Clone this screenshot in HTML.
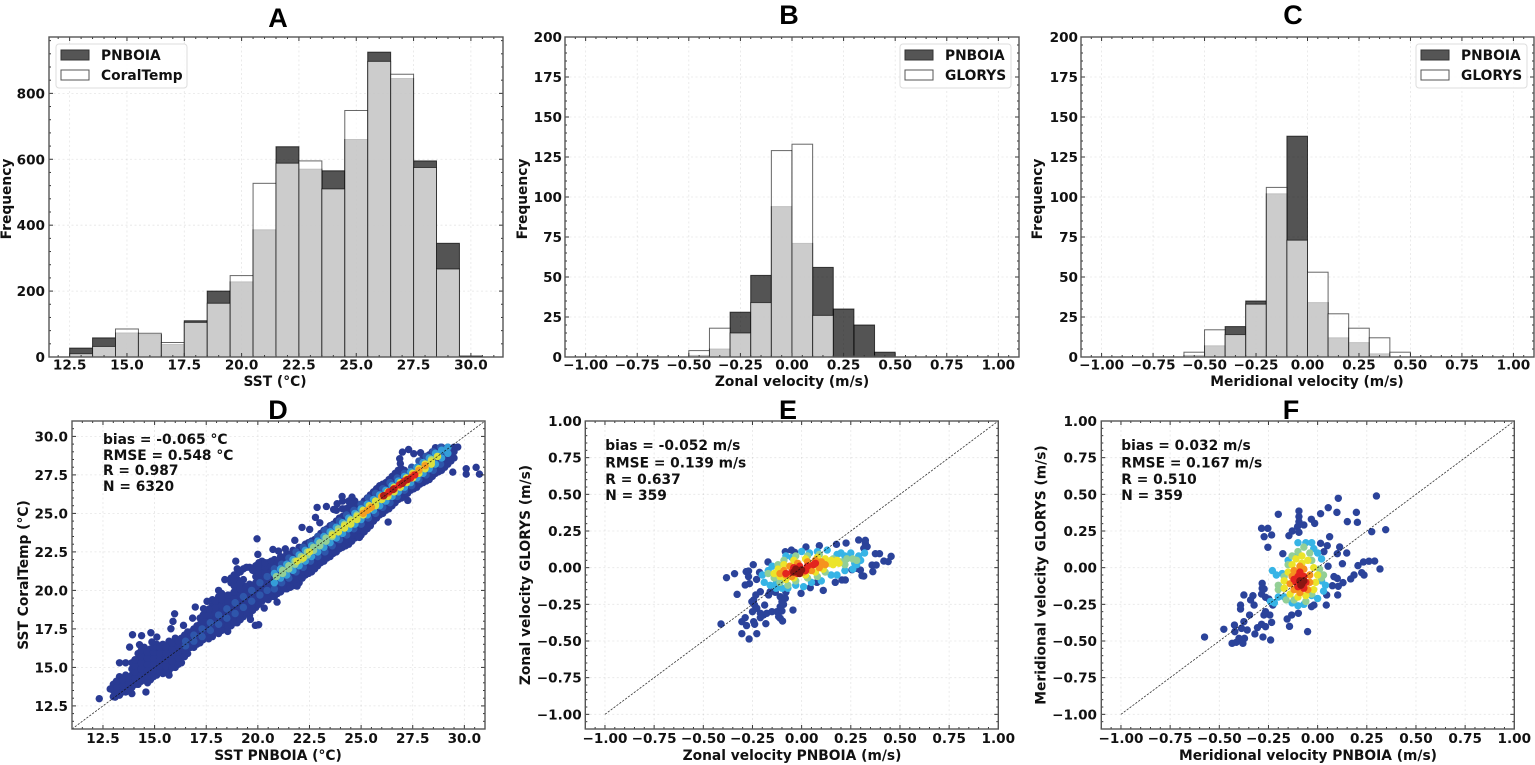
<!DOCTYPE html>
<html lang="en">
<head>
<meta charset="utf-8">
<title>SST and velocity comparison panels</title>
<style>
html,body{margin:0;padding:0;background:#fff;}
#figure{display:block;width:1535px;height:765px;filter:blur(0.35px);}
text{font-family:"DejaVu Sans","Liberation Sans",sans-serif;font-weight:700;fill:#111;}
.panel-title{font-family:"Liberation Sans",sans-serif;font-size:27px;fill:#000;text-anchor:middle;}
</style>
</head>
<body>
<svg id="figure" xmlns="http://www.w3.org/2000/svg" width="1535" height="765" viewBox="0 0 1535 765"></svg>
<script>
/* ---------- histogram data ---------- */
const sstBins = [12.5,13.5,14.5,15.5,16.5,17.5,18.5,19.5,20.5,21.5,22.5,23.5,24.5,25.5,26.5,27.5,28.5,29.5];
const sstPnboiaCounts = [27,58,73,68,38,110,200,228,386,638,570,565,660,925,845,595,345,3];
const sstCoralCounts = [10,32,85,72,44,105,163,247,527,588,595,510,748,897,858,575,267,0];
const zonalBins = [-0.5,-0.4,-0.3,-0.2,-0.1,0,0.1,0.2,0.3,0.4];
const zonalPnboiaCounts = [1,5,28,51,94,71,56,30,20,3];
const zonalGlorysCounts = [4,18,15,34,129,133,26,0,0,0];
const meridBins = [-0.6,-0.5,-0.4,-0.3,-0.2,-0.1,0,0.1,0.2,0.3,0.4];
const meridPnboiaCounts = [1,7,19,35,102,138,34,12,9,2,0];
const meridGlorysCounts = [3,17,14,33,106,73,53,27,18,12,3];

/* ---------- tick labels ---------- */
const sstTicks = [12.5,15,17.5,20,22.5,25,27.5,30];
const sstTickLabels = ["12.5","15.0","17.5","20.0","22.5","25.0","27.5","30.0"];
const sstFreqTicks = [0,200,400,600,800];
const sstFreqLabels = ["0","200","400","600","800"];
const velFreqTicks = [0,25,50,75,100,125,150,175,200];
const velFreqLabels = ["0","25","50","75","100","125","150","175","200"];
const velTicks = [-1,-0.75,-0.5,-0.25,0,0.25,0.5,0.75,1];
const velTickLabels = ["\u22121.00","\u22120.75","\u22120.50","\u22120.25","0.00","0.25","0.50","0.75","1.00"];

/* ---------- scatter D (SST): columns of points per density level ---------- */
const sstNavyColX = [13,13.3,13.6,13.9,14.2,14.5,14.8,15.1,15.4,15.7,16,16.3,16.6,16.9,17.2,17.5,17.8,18.1,18.4,18.7,19,19.3,19.6,19.9,20.2,20.5,20.8,21.1,21.4,21.7,22,22.3,22.6,22.9,23.2,23.5,23.8,24.1,24.4,24.7,25,25.3,25.6,25.9,26.2,26.5,26.8,27.1,27.4,27.7,28,28.3,28.6,28.9,29.2,29.5];
const sstNavyColY = [
[13.1,13.5,13.9],[13.2,13.6,14,14.4,15.3],[13.4,13.8,14.2,14.5,15.3],[13.3,13.7,14.1,14.5,14.9,15.3],
[13.9,14.3,14.7,15.1,15.5,15.9],[14.3,14.7,15.1,15.5,15.9,16.3],[14.2,14.6,15,15.4,15.8,16.2],[14.5,14.9,15.3,15.7,16.1,16.5],
[14.6,15,15.4,15.8,16.2,16.5],[14.5,14.8,15.2,15.6,16,16.4,16.7],[15,15.4,15.8,16.2,16.6,16.9],[15.3,15.7,16.1,16.5,16.9],
[15.9,16.3,16.7,17,17.3],[16.3,16.7,17.1,17.5],[16.6,17,17.4,17.8,18.2],[17,17.4,17.8,18.2,18.6],
[17,17.4,17.8,18.2,18.6,19,19.4],[17.2,17.6,18,18.4,18.8,19.2,19.6,20],[17.5,17.9,18.3,18.7,19.1,19.5,20.7],[17.7,18.1,18.5,18.9,19.3,19.7,20.5,20.8],
[17.9,18.3,18.7,19.1,19.5,19.9,20.3,20.7,21.1,21.4],[18.3,18.7,19.1,19.5,19.9,20.3,20.7,21.4],[18.4,18.8,19.2,19.6,20,20.4,21.5],[18.9,19.3,19.7,20.1,20.5,20.9,21.3,21.6],
[19.3,19.6,20,20.4,20.8,21.2,21.6,21.9],[19.4,19.8,20.2,20.6,21,21.4,21.8],[19.6,20,20.4,20.8,21.2,21.6,22],[19.9,20.3,20.7,21.1,21.5,21.9,22.2],
[20.1,20.5,20.9,21.3,21.7,22.1,22.4],[20.3,20.7,21.1,21.5,21.9,22.3,22.6],[20.5,20.9,21.3,21.7,22.1,22.5,22.8],[21,21.4,21.8,22.2,22.6,23],
[21.2,21.6,22,22.4,22.8,23.2],[21.6,22,22.4,22.8,23.2,23.5],[21.9,22.3,22.7,23.1,23.5,23.9],[22.2,22.6,23,23.4,23.8,24.2],
[22.5,22.9,23.3,23.7,24.1,24.5,25.2],[22.8,23.2,23.6,24,24.4,24.8,25.3,25.8],[23,23.4,23.8,24.2,24.6,25,25.4,25.8],[23.4,23.8,24.2,24.6,25,25.4,25.8],
[23.6,24,24.4,24.8,25.2,25.6],[24,24.4,24.8,25.2,25.6,26],[24.5,24.9,25.3,25.7,26.1,26.4],[24.9,25.3,25.7,26.1,26.5,26.8],
[25.2,25.6,26,26.4,26.8,27],[25.5,25.9,26.3,26.7,27.1,27.4],[25.9,26.3,26.7,27.1,27.5,27.8],[26.2,26.6,27,27.4,27.8],
[26.5,26.9,27.3,27.7],[26.7,27.1,27.5,27.9],[27,27.4,27.8,28.2,28.6],[27.2,27.6,28,28.4,28.8],
[27.6,28,28.4,28.8,29.1],[27.8,28.2,28.6,29,29.3],[28.2,28.6,29,29.3],[28.6,29,29.3]
];
const sstNavyFillColX = [13.15,13.45,13.75,14.05,14.35,14.65,14.95,15.25,15.55,15.85,16.15,16.45,16.75,17.05,17.35,17.65,17.95,18.25,18.55,18.85,19.15,19.45,19.75,20.05,20.35,20.65,20.95,21.25,21.55,21.85,22.15,22.45,22.75,23.05,23.35,23.65,23.95,24.25,24.55,24.85,25.15,25.45,25.75,26.05,26.35,26.65,26.95,27.25,27.55,27.85,28.15,28.45,28.75,29.05,29.35];
const sstNavyFillColY = [
[13.3,13.7,14.1],[13.4,13.8,14.2],[13.5,13.9,14.3],[13.9,14.3,14.7,15.1,15.5],
[14.1,14.5,14.9,15.3,15.7,16.1],[14.4,14.8,15.2,15.6,16],[14.4,14.8,15.2,15.6,16,16.3],[14.7,15.1,15.5,15.9,16.3],
[14.7,15.1,15.5,15.9,16.3],[15,15.4,15.8,16.2,16.6],[15.2,15.6,16,16.4,16.7],[15.7,16.1,16.5,16.9,17.1],
[16.3,16.7,17,17.3],[16.5,16.9,17.3,17.7],[16.8,17.2,17.6,18,18.4],[17.2,17.6,18,18.4,18.8],
[17.3,17.7,18.1,18.5,18.9,19.3],[17.4,17.8,18.2,18.6,19,19.4,19.8],[17.7,18.1,18.5,18.9,19.3,19.7],[17.9,18.3,18.7,19.1,19.5,19.9,20.3,20.7,21],
[18.1,18.5,18.9,19.3,19.7,20.1,20.5,21.2],[18.6,19,19.4,19.8,20.2,21.5],[18.7,19.1,19.5,19.9,20.3,21.3],[19.1,19.5,19.9,20.3,20.7,21.1,21.5,21.8],
[19.5,19.9,20.3,20.7,21.1,21.5,21.8],[19.6,20,20.4,20.8,21.2,21.6,21.9],[19.8,20.2,20.6,21,21.4,21.8],[20.1,20.5,20.9,21.3,21.7,22.1],
[20.3,20.7,21.1,21.5,21.9,22.3],[20.5,20.9,21.3,21.7,22.1,22.5],[20.8,21.2,21.6,22,22.4,22.8],[21.1,21.5,21.9,22.3,22.7,23.1],
[21.4,21.8,22.2,22.6,23,23.3],[21.8,22.2,22.6,23,23.4,23.7],[22.1,22.5,22.9,23.3,23.7,24],[22.4,22.8,23.2,23.6,24,24.3],
[22.7,23.1,23.5,23.9,24.3,24.7],[22.9,23.3,23.7,24.1,24.5,24.9,25.3],[23.2,23.6,24,24.4,24.8,25.2,25.6],[23.5,23.9,24.3,24.7,25.1,25.5],
[23.8,24.2,24.6,25,25.4,25.8],[24.2,24.6,25,25.4,25.8,26.2],[24.7,25.1,25.5,25.9,26.3,26.6],[25,25.4,25.8,26.2,26.6,26.9],
[25.3,25.7,26.1,26.5,26.9,27.2],[25.7,26.1,26.5,26.9,27.3,27.6],[26,26.4,26.8,27.2,27.6,27.9],[26.3,26.7,27.1,27.5],
[26.6,27,27.4,27.8],[26.9,27.3,27.7,28.1,28.4],[27.1,27.5,27.9,28.3,28.7],[27.4,27.8,28.2,28.6,29],
[27.7,28.1,28.5,28.9,29.2],[28,28.4,28.8,29.2],[28.4,28.8,29.2]
];
const sstOutlierX = [12.32,13.09,12.85,14.58,14.66,13.79,13.93,14.37,14.82,15.11,14.87,14.27,15.97,15.89,15.79,16.4,16.84,16.97,17.54,17.37,18.93,19.96,20,20.73,21,21.33,21.79,22.14,22.51,22.79,22.87,23,23.32,23.67,24.08,23.84,24.56,24.92,26.31,27.26,29.44,30.09,30.09,30.57,30.73,26.9,26.87,27,27.3,27.55,27.88,28.04,28.6,29.68,21.9,21.57,20.04,19.88,20.93,20.31,19.64,18.54,17.62];
const sstOutlierY = [12.97,13.07,13.6,13.4,14,16.32,17.12,17.06,17.25,16.97,16.65,16.47,18.48,17.99,17.51,17.73,18.2,18.92,19.29,18.81,21.9,23.35,22.34,22.66,22.55,22.7,23.25,24.09,23.96,24.74,25.39,24.39,25.45,25.26,26.1,25.63,26.06,23.44,24.44,25.84,27.68,27.9,27.55,27.99,27.55,28.23,28.55,28.98,29.15,28.88,28.94,28.6,29.27,29.31,20.28,20.2,17.77,17.73,19.24,18.85,18.12,17.34,16.86];
const sstMidColX = [16.5,16.9,17.3,17.7,18.1,18.5,18.9,19.3,19.7,20.1,20.45,20.8,21.15,21.5,21.85,22.2,22.55,22.9,23.25,23.6,23.95,24.3,24.65,25,25.35,25.7,26.05,26.4,26.75,27.1,27.45,27.8,28.15,28.5,28.85,29.2];
const sstMidColY = [[16.4,16.7],[16.7,17.1],[17,17.5],[17.4,17.9],[17.8,18.4],[18.2,18.8],[18.5,19.2],[18.9,19.6],[19.3,20],[19.7,20.5],[20,20.9],[21.4,20.1],[21.7,20.5],[22.1,20.8],[22.5,21.2],[22.8,21.5],[23.1,21.9],[23.5,22.2],[23.9,22.5],[24.2,22.9],[24.5,23.3],[24.9,23.6],[25.2,24],[25.6,24.3],[26,24.7],[26.3,25],[26.6,25.4],[27,25.7],[27.3,26.1],[27.6,26.5],[28,26.8],[28.4,27.2],[28.7,27.5],[29,27.8],[29.3,28.2],[29.2]];
const sstCyanColX = [20.8,21.1,21.4,21.7,22,22.3,22.6,22.9,23.2,23.5,23.8,24.1,24.4,24.7,25,25.3,25.6,25.9,26.2,26.5,26.8,27.1,27.4,27.7,28,28.3,28.6,28.9,29.2];
const sstCyanColY = [[21.1,20.5],[21.4,20.8],[21.7,21],[22,21.3],[22.3,21.6],[22.6,21.9],[22.9,22.2],[23.2,22.5],[23.5,22.8],[23.8,23.1],[24.1,23.4],[24.4,23.7],[24.7,24],[25,24.3],[25.3,24.6],[25.6,24.9],[25.9,25.2],[26.2,25.5],[26.5,25.8],[26.8,26.1],[27.1,26.4],[27.4,26.7],[27.7,27],[28,27.3],[28.3,27.6],[28.6,27.9],[28.9,28.2],[29.1,28.6],[29.3,28.9]];
const sstGreenColX = [20.9,21.2,21.5,21.8,22.1,22.4,22.7,23,23.3,23.6,23.9,24.2,24.5,24.8,25.1,25.4,25.7,26,26.3,26.6,26.9,27.2,27.5,27.8,28.1,28.4,28.7];
const sstGreenColY = [[20.9],[21.3,21.1],[21.6,21.4],[21.9,21.7],[22.2,22],[22.5,22.3],[22.8,22.6],[23.1,22.9],[23.4,23.2],[23.7,23.5],[24,23.8],[24.3,24.1],[24.6,24.4],[24.9,24.7],[25.2,25],[25.5,25.3],[25.8,25.6],[26.1,25.9],[26.4,26.2],[26.7,26.5],[27,26.8],[27.3,27.1],[27.6,27.4],[27.9,27.7],[28.2,28],[28.5,28.3],[28.7]];
const sstYellowColX = [21.9,22.2,22.5,23.6,23.9,24.2,24.5,24.8,25.1,25.4,25.7,26,26.3,26.6,26.9,27.2,27.5,27.8,28.1,28.4,28.7];
const sstYellowColY = [[21.9],[22.1],[22.5],[23.6],[23.8],[24.2,24.05],[24.5,24.3],[24.8,24.6],[25.2,24.9],[25.5,25.3],[25.8,25.5],[26.1,25.9],[26.4,26.1],[26.7,26.4],[27,26.7],[27.3,27],[27.6,27.3],[27.9,27.6],[28.2,27.9],[28.4,28.2],[28.7]];
const sstOrangeColX = [25.1,25.3,25.5,26,26.3,26.6,26.9,27.2,27.5,27.8,28.1];
const sstOrangeColY = [[25],[25.2],[25.4],[26.1],[26.3],[26.6],[26.9],[27.2],[27.5],[27.8],[28.1]];
const sstRedColX = [26.1,26.35,26.6,26.85,27.1,27.4,27.6];
const sstRedColY = [[26.15],[26.4],[26.6],[26.85],[27.1],[27.3],[27.5]];
const sstDarkColX = [26.1,26.55,27,27.25];
const sstDarkColY = [[26.15],[26.55],[26.95],[27.2]];

/* ---------- scatter E (zonal velocity) per density level ---------- */
const zonalNavyX = [-0.41,-0.382,-0.341,-0.328,-0.304,-0.267,-0.228,-0.28,-0.287,-0.265,-0.246,-0.282,-0.27,-0.27,-0.229,-0.214,-0.171,-0.244,-0.233,-0.21,-0.253,-0.239,-0.188,-0.228,-0.25,-0.21,-0.194,-0.177,-0.151,-0.126,-0.1,-0.287,-0.304,-0.244,-0.239,-0.182,-0.21,-0.117,-0.109,-0.097,-0.109,-0.1,-0.109,-0.083,-0.092,-0.044,-0.168,-0.16,-0.134,-0.08,-0.003,0.044,0.11,0.078,0.171,0.205,0.222,0.316,0.307,0.256,0.282,0.299,0.362,0.358,0.379,0.418,0.44,0.455,0.375,0.396,0.324,0.29,0.324,0.333,0.316,0.226,0.177,0.09,0.022,-0.083,-0.052,-0.036];
const zonalNavyY = [-0.384,-0.068,-0.041,-0.182,-0.45,-0.486,-0.45,-0.395,-0.118,-0.109,0.02,-0.027,-0.023,-0.061,-0.08,-0.032,0.039,-0.22,-0.186,-0.164,-0.232,-0.255,-0.255,-0.277,-0.3,-0.311,-0.323,-0.311,-0.3,-0.3,-0.295,-0.341,-0.368,-0.368,-0.386,-0.382,-0.341,-0.334,-0.345,-0.364,-0.266,-0.232,-0.198,-0.209,-0.25,-0.289,-0.186,-0.164,-0.168,-0.168,-0.175,-0.136,-0.155,-0.1,-0.1,-0.084,-0.084,-0.057,-0.055,-0.014,-0.005,-0.016,-0.027,0.018,0.018,0.045,0.041,0.077,0.095,0.095,0.166,0.189,0.186,0.143,0.132,0.168,0.159,0.15,0.141,0.109,0.12,0.105];
const zonalCyanX = [-0.2,-0.17,-0.15,-0.19,-0.16,-0.13,-0.1,-0.13,-0.07,-0.03,0.01,0.05,0.1,0.15,0.18,-0.08,-0.05,0,0.04,0.08,0.13,0.2,0.25,0.29,0.3,0.32,0.27,0.22,0.26,0.24,0.28,0.18,0.22];
const zonalCyanY = [-0.05,-0.02,0.01,-0.1,-0.12,-0.14,-0.14,-0.11,-0.14,-0.12,-0.13,-0.1,-0.09,-0.05,-0.05,0.08,0.07,0.11,0.1,0.11,0.12,0.1,0.1,0.08,0.05,0.1,0.03,-0.02,-0.01,0.07,0.02,0.09,0.08];
const zonalGreenX = [-0.17,-0.14,-0.11,-0.07,-0.03,0.03,0.08,0.12,-0.12,-0.09,-0.03,0.03,0.09,0.2,0.23,0.26,0.28,0.22,0.16];
const zonalGreenY = [-0.04,-0.07,-0.1,-0.12,-0.09,-0.07,-0.06,-0.03,0.02,0.05,0.08,0.08,0.09,0.04,0.06,0.06,0.05,0.02,0.06];
const zonalYellowX = [-0.14,-0.11,-0.08,-0.04,0.02,0.07,0.11,0.16,0.19,0.15,0.12,0.08,0.02,-0.04,-0.09,-0.12,0.14,0.18];
const zonalYellowY = [-0.04,-0.06,-0.08,-0.07,-0.05,-0.03,-0.01,0.02,0.03,0.05,0.06,0.07,0.06,0.05,0.02,-0.01,0.03,0.05];
const zonalOrangeX = [-0.11,-0.09,-0.06,-0.02,0.03,0.07,0.1,0.12,0.09,0.05,0.01,-0.05,-0.08];
const zonalOrangeY = [-0.04,-0.02,0.01,0.03,0.04,0.05,0.04,0.02,0,-0.02,-0.03,-0.06,-0.05];
const zonalRedX = [-0.08,-0.05,-0.04,-0.01,0.03,0.06,0.07,0.02,-0.02];
const zonalRedY = [-0.04,-0.03,0,0.01,0.01,0.02,0.03,-0.02,-0.04];
const zonalDarkX = [-0.04,-0.02,0,-0.03,-0.01];
const zonalDarkY = [-0.03,-0.02,-0.015,-0.01,-0.04];

/* ---------- scatter F (meridional velocity) per density level ---------- */
const meridNavyX = [-0.575,-0.477,-0.423,-0.421,-0.435,-0.414,-0.4,-0.38,-0.372,-0.387,-0.375,-0.358,-0.346,-0.319,-0.306,-0.285,-0.265,-0.278,-0.239,-0.234,-0.243,-0.273,-0.265,-0.392,-0.392,-0.375,-0.329,-0.341,-0.323,-0.282,-0.282,-0.272,-0.285,-0.265,-0.248,-0.228,-0.2,-0.285,-0.253,-0.272,-0.234,-0.253,-0.177,-0.095,-0.095,-0.095,-0.102,-0.095,-0.129,-0.146,-0.07,-0.032,-0.015,0.015,0.054,0.105,0.299,0.098,0.151,0.197,0.202,0.275,0.346,0.061,0.015,0.049,0.032,0.112,0.1,0.148,0.126,0.053,0.233,0.261,0.29,0.205,0.317,0.224,0.236,0.185,0.168,0.129,0.105,0.075,0.1,0.083,0.046,0.102,0.044,-0.031,-0.019,-0.098,-0.132,-0.155,-0.143,-0.051];
const meridNavyY = [-0.473,-0.42,-0.391,-0.436,-0.516,-0.509,-0.482,-0.516,-0.482,-0.414,-0.368,-0.425,-0.323,-0.452,-0.409,-0.386,-0.402,-0.473,-0.493,-0.373,-0.323,-0.323,-0.3,-0.255,-0.282,-0.186,-0.191,-0.22,-0.255,-0.107,-0.141,-0.145,-0.18,-0.202,-0.214,-0.255,0.364,0.268,0.268,0.211,0.223,0.139,0.095,0.386,0.348,0.314,0.28,0.241,0.25,0.218,0.291,0.33,0.302,0.368,0.409,0.473,0.489,0.377,0.314,0.377,0.309,0.245,0.259,0.211,0.166,0.15,0.109,0.141,0.095,0.1,0.027,0.01,0.039,0.044,0.045,0.014,-0.009,-0.034,-0.05,-0.05,-0.077,-0.102,-0.127,-0.123,-0.073,-0.061,-0.186,-0.186,-0.255,-0.266,-0.255,-0.311,-0.323,-0.35,-0.4,-0.436];
const meridCyanX = [-0.23,-0.21,-0.18,-0.15,-0.1,-0.1,-0.06,-0.02,-0.03,0,0.02,-0.17,-0.2,-0.13,-0.1,-0.07,-0.03,0,0.03,0.04,0.02,-0.24,-0.22];
const meridCyanY = [-0.02,-0.05,-0.04,0.05,0.09,0.17,0.17,0.13,0.17,0.1,0.06,-0.2,-0.2,-0.24,-0.26,-0.25,-0.19,-0.21,-0.16,-0.12,-0.09,-0.23,-0.24];
const meridGreenX = [-0.07,-0.1,-0.13,-0.15,-0.17,-0.2,-0.2,-0.16,-0.12,-0.06,-0.03,0.02,0.03,0.01,-0.03,-0.04];
const meridGreenY = [0.14,0.11,0.08,0.02,-0.06,-0.12,-0.15,-0.22,-0.22,-0.23,-0.18,-0.07,-0.05,-0.01,0.05,0.1];
const meridYellowX = [-0.08,-0.11,-0.13,-0.15,-0.17,-0.17,-0.14,-0.1,-0.06,-0.02,-0.01,0,-0.02,-0.05,-0.08];
const meridYellowY = [0.08,0.06,0.02,-0.03,-0.09,-0.14,-0.18,-0.2,-0.19,-0.15,-0.1,-0.05,0,0.05,0.03];
const meridOrangeX = [-0.09,-0.12,-0.13,-0.14,-0.12,-0.09,-0.05,-0.04,-0.04,-0.07];
const meridOrangeY = [0.01,-0.02,-0.06,-0.11,-0.15,-0.17,-0.15,-0.1,-0.05,-0.01];
const meridRedX = [-0.1,-0.11,-0.1,-0.07,-0.06,-0.07,-0.09,-0.12];
const meridRedY = [-0.06,-0.1,-0.13,-0.14,-0.1,-0.06,-0.03,-0.08];
const meridDarkX = [-0.09,-0.08,-0.07,-0.085];
const meridDarkY = [-0.09,-0.11,-0.09,-0.12];

/* ---------- drawing ---------- */
const NS = 'http://www.w3.org/2000/svg';
const figure = document.getElementById('figure');
const DOT_RADIUS = 3.7;
const LABEL_SIZE = 13.8;
const TICK_SIZE = 13.6;

function svgEl(tag, props, parent) {
  const el = document.createElementNS(NS, tag);
  for (const k in props) el.setAttribute(k, props[k]);
  parent.appendChild(el);
  return el;
}

const colourStops = [[0,[40,50,140]],[0.15,[47,92,176]],[0.3,[54,180,230]],[0.42,[147,207,150]],[0.58,[236,228,42]],[0.72,[246,146,30]],[0.86,[227,36,31]],[1,[138,22,18]]];
function densityColour(d) {
  for (let i = 1; i < colourStops.length; i++) {
    const a = colourStops[i-1], b = colourStops[i];
    if (d <= b[0]) {
      const t = (d - a[0]) / (b[0] - a[0]);
      const c = a[1].map((v, k) => Math.round(v + (b[1][k] - v) * t));
      return 'rgb(' + c.join(',') + ')';
    }
  }
  return 'rgb(138,22,18)';
}

function makeAxes(cfg) {
  const group = svgEl('g', {}, figure);
  
  
  const x = v => cfg.left + (v - cfg.xlim[0]) / (cfg.xlim[1] - cfg.xlim[0]) * (cfg.right - cfg.left);
  const y = v => cfg.bottom - (v - cfg.ylim[0]) / (cfg.ylim[1] - cfg.ylim[0]) * (cfg.bottom - cfg.top);
  const ax = {group, x, y, cfg};

  const title = svgEl('text', {x: cfg.titleX, y: cfg.titleY, class: 'panel-title'}, group);
  title.textContent = cfg.title;
  
  

  cfg.xticks.forEach(v => {
    const line = svgEl('line', {x1: x(v), x2: x(v), y1: cfg.top, y2: cfg.bottom, stroke: '#000', 'stroke-opacity': 0.1, 'stroke-width': 0.8, 'stroke-dasharray': '2 2.5'}, group);
    
    
  });
  cfg.yticks.forEach(v => {
    if (y(v) > cfg.bottom - 1) return;
    const line = svgEl('line', {x1: cfg.left, x2: cfg.right, y1: y(v), y2: y(v), stroke: '#000', 'stroke-opacity': 0.1, 'stroke-width': 0.8, 'stroke-dasharray': '2 2.5'}, group);
    
    
  });
  return ax;
}

function finishAxes(ax) {
  const {group, x, y, cfg} = ax;
  const tickColour = '#333';
  const xStep = (cfg.xticks[1] - cfg.xticks[0]) / 5;
  const yStep = (cfg.yticks[1] - cfg.yticks[0]) / 5;
  for (let v = cfg.xticks[0] - 10 * xStep; v <= cfg.xlim[1] + 1e-9; v += xStep) {
    if (v < cfg.xlim[0]) continue;
    const k = Math.abs((v - cfg.xticks[0]) / (5 * xStep));
    const major = Math.abs(k - Math.round(k)) < 1e-6;
    const len = major ? 4 : 2;
    const b = svgEl('line', {x1: x(v), x2: x(v), y1: cfg.bottom, y2: cfg.bottom - len, stroke: tickColour, 'stroke-width': 1}, group);
    
    
    const t = svgEl('line', {x1: x(v), x2: x(v), y1: cfg.top, y2: cfg.top + len, stroke: tickColour, 'stroke-width': 1}, group);
    
    
  }
  for (let v = cfg.yticks[0] - 10 * yStep; v <= cfg.ylim[1] + 1e-9; v += yStep) {
    if (v < cfg.ylim[0]) continue;
    const k = Math.abs((v - cfg.yticks[0]) / (5 * yStep));
    const major = Math.abs(k - Math.round(k)) < 1e-6;
    const len = major ? 4 : 2;
    const l = svgEl('line', {x1: cfg.left, x2: cfg.left + len, y1: y(v), y2: y(v), stroke: tickColour, 'stroke-width': 1}, group);
    
    
    const r = svgEl('line', {x1: cfg.right, x2: cfg.right - len, y1: y(v), y2: y(v), stroke: tickColour, 'stroke-width': 1}, group);
    
    
  }
  const frame = svgEl('rect', {x: cfg.left, y: cfg.top, width: cfg.right - cfg.left, height: cfg.bottom - cfg.top, fill: 'none', stroke: '#555', 'stroke-width': 1.4}, group);
  
  

  cfg.xticks.forEach((v, i) => {
    const t = svgEl('text', {x: x(v), y: cfg.xTickBase, 'text-anchor': 'middle', 'font-size': TICK_SIZE}, group);
    t.textContent = cfg.xlabels[i];
    
    
  });
  cfg.yticks.forEach((v, i) => {
    const t = svgEl('text', {x: cfg.yTickRight, y: y(v) + 5, 'text-anchor': 'end', 'font-size': TICK_SIZE}, group);
    t.textContent = cfg.ylabels[i];
    
    
  });
  const xl = svgEl('text', {x: cfg.xLabelX, y: cfg.xLabelBase, 'text-anchor': 'middle', 'font-size': LABEL_SIZE}, group);
  xl.textContent = cfg.xTitle;
  
  
  const yl = svgEl('text', {transform: 'translate(' + cfg.yLabelBase + ',' + cfg.yLabelY + ') rotate(-90)', 'text-anchor': 'middle', 'font-size': LABEL_SIZE}, group);
  yl.textContent = cfg.yTitle;
  
  
}

function drawBars(ax, bins, counts, width, fill, fillAlpha, strokeAlpha, name) {
  bins.forEach((b, i) => {
    if (counts[i] <= 0) return;
    const r = svgEl('rect', {
      x: ax.x(b), y: ax.y(counts[i]),
      width: ax.x(b + width) - ax.x(b),
      height: ax.y(0) - ax.y(counts[i]),
      fill: fill, 'fill-opacity': fillAlpha, stroke: '#000', 'stroke-opacity': strokeAlpha, 'stroke-width': 1
    }, ax.group);
    
    
  });
}

function drawLegend(ax, box, labels) {
  const g = svgEl('g', {}, ax.group);
  
  
  const bg = svgEl('rect', {x: box.x, y: 44, width: box.w, height: 44, rx: 3, fill: '#fff', 'fill-opacity': 0.85, stroke: '#ddd', 'stroke-width': 1}, g);
  
  
  const p1 = svgEl('rect', {x: box.x + 5, y: 50, width: 28, height: 10, fill: '#555', stroke: '#333', 'stroke-width': 1}, g);
  
  
  const t1 = svgEl('text', {x: box.x + box.t, y: 60, 'font-size': LABEL_SIZE}, g);
  t1.textContent = labels[0];
  
  
  const p2 = svgEl('rect', {x: box.x + 5, y: 70, width: 28, height: 10, fill: '#fff', stroke: '#555', 'stroke-width': 1}, g);
  
  
  const t2 = svgEl('text', {x: box.x + box.t, y: 80, 'font-size': LABEL_SIZE}, g);
  t2.textContent = labels[1];
  
  
}

function drawPoints(ax, xs, ys, density) {
  const colour = densityColour(density);
  const n = Math.min(xs.length, ys.length);
  for (let i = 0; i < n; i++) {
    const c = svgEl('circle', {cx: ax.x(xs[i]), cy: ax.y(ys[i]), r: DOT_RADIUS, fill: colour}, ax.group);
    
    
  }
}

function drawColumns(ax, colX, colY, density) {
  const colour = densityColour(density);
  colX.forEach((xv, i) => {
    (colY[i] || []).forEach(yv => {
      const c = svgEl('circle', {cx: ax.x(xv), cy: ax.y(yv), r: DOT_RADIUS, fill: colour}, ax.group);
      
      
    });
  });
}

function drawDiagonal(ax, lo, hi) {
  const d = svgEl('line', {x1: ax.x(lo), y1: ax.y(lo), x2: ax.x(hi), y2: ax.y(hi), stroke: '#111', 'stroke-width': 0.8, 'stroke-dasharray': '2.2 1.4', 'stroke-opacity': 0.85}, ax.group);
  
  
}

function drawStats(ax, px, bases, lines) {
  lines.forEach((s, i) => {
    const t = svgEl('text', {x: px, y: bases[i], 'font-size': LABEL_SIZE}, ax.group);
    t.textContent = s;
    
    
  });
}

/* ---------- panels ---------- */
const panelA = makeAxes({name:'histogram-sst', title:'A', titleX:278, titleY:27, left:49, right:503, top:37, bottom:357, xlim:[11.6,31.4], ylim:[0,971], xticks:sstTicks, xlabels:sstTickLabels, yticks:sstFreqTicks, ylabels:sstFreqLabels, xTitle:'SST (\u00B0C)', yTitle:'Frequency', xTickBase:369.5, xLabelBase:386, xLabelX:275, yLabelBase:11, yLabelY:199, yTickRight:45});
drawBars(panelA, sstBins, sstPnboiaCounts, 1, '#000', 0.67, 0.7, 'bar-pnboia');
drawBars(panelA, sstBins, sstCoralCounts, 1, '#fff', 0.7, 0.6, 'bar-coraltemp');
drawLegend(panelA, {x:56, w:131, t:45}, ['PNBOIA','CoralTemp']);
finishAxes(panelA);

const panelB = makeAxes({name:'histogram-zonal-velocity', title:'B', titleX:789, titleY:24, left:565, right:1019, top:37, bottom:357, xlim:[-1.1,1.1], ylim:[0,200], xticks:velTicks, xlabels:velTickLabels, yticks:velFreqTicks, ylabels:velFreqLabels, xTitle:'Zonal velocity (m/s)', yTitle:'Frequency', xTickBase:369.5, xLabelBase:386, xLabelX:792, yLabelBase:527, yLabelY:199, yTickRight:562});
drawBars(panelB, zonalBins, zonalPnboiaCounts, 0.1, '#000', 0.67, 0.7, 'bar-pnboia');
drawBars(panelB, zonalBins, zonalGlorysCounts, 0.1, '#fff', 0.7, 0.6, 'bar-glorys');
drawLegend(panelB, {x:900, w:111, t:45}, ['PNBOIA','GLORYS']);
finishAxes(panelB);

const panelC = makeAxes({name:'histogram-meridional-velocity', title:'C', titleX:1293, titleY:24, left:1081, right:1534, top:37, bottom:357, xlim:[-1.1,1.1], ylim:[0,200], xticks:velTicks, xlabels:velTickLabels, yticks:velFreqTicks, ylabels:velFreqLabels, xTitle:'Meridional velocity (m/s)', yTitle:'Frequency', xTickBase:369.5, xLabelBase:386, xLabelX:1307, yLabelBase:1042, yLabelY:199, yTickRight:1078});
drawBars(panelC, meridBins, meridPnboiaCounts, 0.1, '#000', 0.67, 0.7, 'bar-pnboia');
drawBars(panelC, meridBins, meridGlorysCounts, 0.1, '#fff', 0.7, 0.6, 'bar-glorys');
drawLegend(panelC, {x:1416, w:111, t:45}, ['PNBOIA','GLORYS']);
finishAxes(panelC);

const panelD = makeAxes({name:'scatter-sst', title:'D', titleX:278, titleY:419, left:72, right:485, top:421, bottom:729, xlim:[11,31], ylim:[11,31], xticks:sstTicks, xlabels:sstTickLabels, yticks:sstTicks, ylabels:sstTickLabels, xTitle:'SST PNBOIA (\u00B0C)', yTitle:'SST CoralTemp (\u00B0C)', xTickBase:743, xLabelBase:760, xLabelX:278, yLabelBase:28, yLabelY:575, yTickRight:68});
drawColumns(panelD, sstNavyColX, sstNavyColY, 0.03);
drawColumns(panelD, sstNavyFillColX, sstNavyFillColY, 0.03);
drawPoints(panelD, sstOutlierX, sstOutlierY, 0.03);
drawColumns(panelD, sstMidColX, sstMidColY, 0.13);
drawColumns(panelD, sstCyanColX, sstCyanColY, 0.26);
drawColumns(panelD, sstGreenColX, sstGreenColY, 0.42);
drawColumns(panelD, sstYellowColX, sstYellowColY, 0.55);
drawColumns(panelD, sstOrangeColX, sstOrangeColY, 0.7);
drawColumns(panelD, sstRedColX, sstRedColY, 0.86);
drawColumns(panelD, sstDarkColX, sstDarkColY, 0.94);
drawDiagonal(panelD, 11, 31);
drawStats(panelD, 103, [444,460,475,491], ['bias = -0.065 \u00B0C','RMSE = 0.548 \u00B0C','R = 0.987','N = 6320']);
finishAxes(panelD);

const panelE = makeAxes({name:'scatter-zonal-velocity', title:'E', titleX:788, titleY:419, left:585.3, right:998.3, top:421, bottom:729, xlim:[-1.1,1], ylim:[-1.1,1], xticks:velTicks, xlabels:velTickLabels, yticks:velTicks, ylabels:velTickLabels, xTitle:'Zonal velocity PNBOIA (m/s)', yTitle:'Zonal velocity GLORYS (m/s)', xTickBase:743, xLabelBase:760, xLabelX:792, yLabelBase:530, yLabelY:575, yTickRight:581.7});
drawPoints(panelE, zonalNavyX, zonalNavyY, 0.06);
drawPoints(panelE, zonalCyanX, zonalCyanY, 0.3);
drawPoints(panelE, zonalGreenX, zonalGreenY, 0.42);
drawPoints(panelE, zonalYellowX, zonalYellowY, 0.58);
drawPoints(panelE, zonalOrangeX, zonalOrangeY, 0.72);
drawPoints(panelE, zonalRedX, zonalRedY, 0.86);
drawPoints(panelE, zonalDarkX, zonalDarkY, 1);
drawDiagonal(panelE, -1, 1);
drawStats(panelE, 605.3, [450,467.5,484,500], ['bias = -0.052 m/s','RMSE = 0.139 m/s','R = 0.637','N = 359']);
finishAxes(panelE);

const panelF = makeAxes({name:'scatter-meridional-velocity', title:'F', titleX:1291, titleY:419, left:1101.3, right:1514.3, top:421, bottom:729, xlim:[-1.1,1], ylim:[-1.1,1], xticks:velTicks, xlabels:velTickLabels, yticks:velTicks, ylabels:velTickLabels, xTitle:'Meridional velocity PNBOIA (m/s)', yTitle:'Meridional velocity GLORYS (m/s)', xTickBase:743, xLabelBase:760, xLabelX:1308, yLabelBase:1045.7, yLabelY:575, yTickRight:1097});
drawPoints(panelF, meridNavyX, meridNavyY, 0.06);
drawPoints(panelF, meridCyanX, meridCyanY, 0.3);
drawPoints(panelF, meridGreenX, meridGreenY, 0.42);
drawPoints(panelF, meridYellowX, meridYellowY, 0.58);
drawPoints(panelF, meridOrangeX, meridOrangeY, 0.72);
drawPoints(panelF, meridRedX, meridRedY, 0.86);
drawPoints(panelF, meridDarkX, meridDarkY, 1);
drawDiagonal(panelF, -1, 1);
drawStats(panelF, 1121.3, [450,467.5,484,500], ['bias = 0.032 m/s','RMSE = 0.167 m/s','R = 0.510','N = 359']);
finishAxes(panelF);
</script>
</body>
</html>
